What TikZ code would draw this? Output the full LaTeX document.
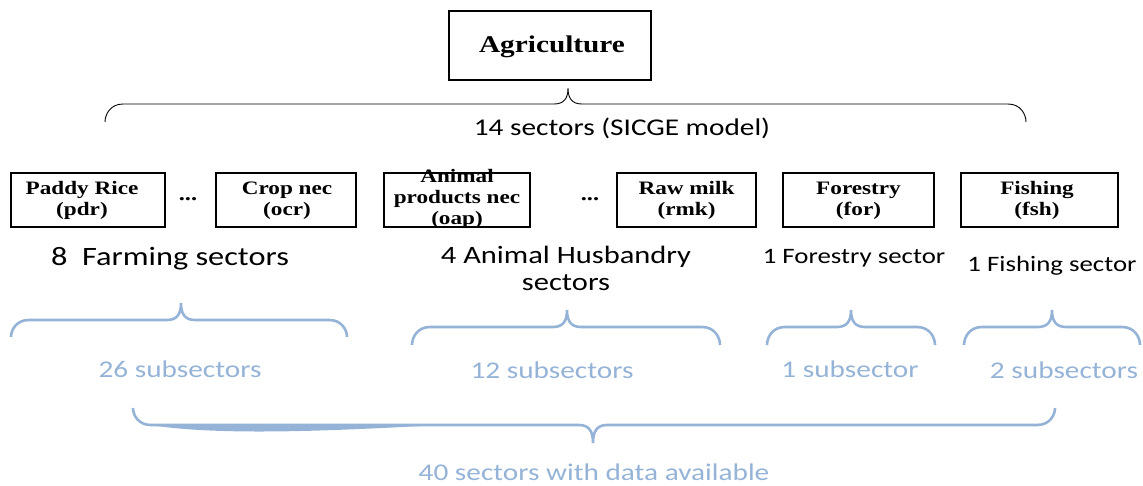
\documentclass[tikz,border=0pt]{standalone}
\usepackage{fontspec}
\usepackage{graphicx}
\setmainfont{Liberation Serif}
\newfontfamily\calfont{Carlito}
\definecolor{subblue}{RGB}{149,179,215}
\newcommand\hstretch[1]{\scalebox{1.22}[1]{#1}}
\newcommand\twol[2]{\hstretch{\begin{tabular}{@{}c@{}}#1\\#2\end{tabular}}}
\newcommand\bracepath[6]{(#1,#5) .. controls (#1,{#4+0.6*(#5-#4)}) and ({#1+5},#4) .. ({#1+18},#4) -- ({#3-14},#4) .. controls ({#3-4},#4) and (#3,{#4+0.35*(#6-#4)}) .. (#3,#6) .. controls (#3,{#4+0.35*(#6-#4)}) and ({#3+4},#4) .. ({#3+14},#4) -- ({#2-18},#4) .. controls ({#2-5},#4) and (#2,{#4+0.6*(#5-#4)}) .. (#2,#5)}
\begin{document}
\begin{tikzpicture}[x=1pt,y=-1pt,
  box/.style={draw, line width=1.1pt, inner sep=0pt, minimum height=54pt},
  boxtext/.style={inner sep=0pt, font=\bfseries\fontsize{19}{21}\selectfont},
  topbox/.style={draw, line width=1.1pt, inner sep=0pt, minimum width=202pt, minimum height=69pt},
  toptext/.style={inner sep=0pt, font=\bfseries\fontsize{24}{27}\selectfont},
  dots/.style={inner sep=0pt, font=\bfseries\fontsize{20}{21}\selectfont},
  lab/.style={inner sep=0pt, font=\calfont\fontsize{25}{27}\selectfont},
  flab/.style={inner sep=0pt, font=\calfont\fontsize{26.5}{27}\selectfont},
  slab/.style={inner sep=0pt, font=\calfont\fontsize{22}{26}\selectfont},
  blab/.style={inner sep=0pt, text=subblue, font=\calfont\fontsize{24}{28}\selectfont},
  blackbrace/.style={draw=black, line width=0.9pt},
  bluebrace/.style={draw=subblue, line width=2.6pt}
]
\useasboundingbox (0,0) rectangle (1143,486);

% top box
\node[topbox] (agri) at (550,45.5) {};
\node[toptext] (agritext) at (552,47) {\hstretch{Agriculture}};

% top brace
\draw[blackbrace] \bracepath{105}{1026}{568}{104}{122}{88};
\node[blab, text=black] (sicge) at (622,128) {\hstretch{14 sectors (SICGE model)}};

% sector boxes
\node[box, minimum width=154pt] (pdr) at (88,200) {};
\node[boxtext] (pdrt) at (82,201) {\twol{Paddy Rice}{(pdr)}};
\node[dots] (d1) at (188,199) {\hstretch{...}};
\node[box, minimum width=140pt] (ocr) at (286,200) {};
\node[boxtext] (ocrt) at (287,201) {\twol{Crop nec}{(ocr)}};
\node[box, minimum width=146pt] (oap) at (457,200) {};
\node[boxtext] (oapt) at (457,199) {\hstretch{\begin{tabular}{@{}c@{}}Animal\\products nec\\(oap)\end{tabular}}};
\node[dots] (d2) at (590,199) {\hstretch{...}};
\node[box, minimum width=139pt] (rmk) at (686.5,200) {};
\node[boxtext] (rmkt) at (686.5,201) {\twol{Raw milk}{(rmk)}};
\node[box, minimum width=151pt] (for) at (858.5,200) {};
\node[boxtext] (fort) at (858.5,201) {\twol{Forestry}{(for)}};
\node[box, minimum width=157pt] (fsh) at (1039.5,200) {};
\node[boxtext] (fsht) at (1037,201) {\twol{Fishing}{(fsh)}};

% sector labels
\node[flab] (farm) at (170,259) {\hstretch{8\ \ Farming sectors}};
\node[lab, align=center] (anim) at (566,272) {\hstretch{\begin{tabular}{@{}c@{}}4 Animal Husbandry\\sectors\end{tabular}}};
\node[slab] (fory) at (854,258) {\hstretch{1 Forestry sector}};
\node[slab] (fish) at (1052,266) {\hstretch{1 Fishing sector}};

% blue braces
\draw[bluebrace] \bracepath{11}{347}{181}{320}{337}{303};
\draw[bluebrace] \bracepath{412}{720}{567}{327}{345}{310};
\draw[bluebrace] \bracepath{767}{935}{851}{327}{345}{310};
\draw[bluebrace] \bracepath{964}{1140}{1052}{327}{345}{310};

\node[blab] (s26) at (180,369) {\hstretch{26 subsectors}};
\node[blab] (s12) at (552,370) {\hstretch{12 subsectors}};
\node[blab] (s1) at (850,369) {\hstretch{1 subsector}};
\node[blab] (s2) at (1064,370) {\hstretch{2 subsectors}};

% bottom brace
\draw[bluebrace] \bracepath{133}{1055}{593}{425}{408}{443};
\fill[subblue] (150,425) .. controls (220,436) and (330,431) .. (440,425) -- cycle;

\node[blab] (s40) at (594,472) {\hstretch{40 sectors with data available}};
\end{tikzpicture}
\end{document}
